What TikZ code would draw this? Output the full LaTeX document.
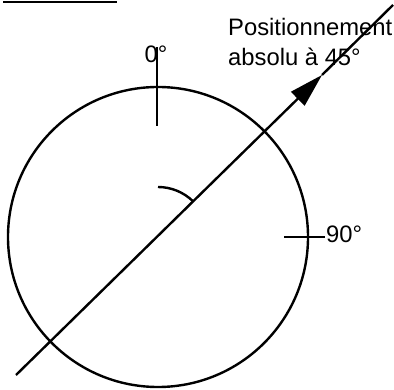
\documentclass[tikz,border=0pt]{standalone}
\usepackage{fontspec}
\setmainfont{Liberation Sans}
\usetikzlibrary{arrows.meta}

\begin{document}
\begin{tikzpicture}[x=0.5pt,y=0.5pt,line width=1.2pt,>={Triangle[length=17pt,width=9.5pt]},
  every node/.style={font=\fontsize{11.9}{15}\selectfont,inner sep=0pt}]
  \useasboundingbox (0,0) rectangle (394,389);
  % underline cut at the top edge
  \draw[line width=1.3pt] (3,387) -- (117,387);
  % dial and its marks
  \draw (158,152) coordinate (O) circle[radius=150];
  \draw (157,263) coordinate (t0) -- (157,342) coordinate (t0e);
  \node[anchor=base] (zero) at (156,326) {0°};
  \draw (284,152) coordinate (t90) -- (325,152) coordinate (t90e);
  \node[anchor=base west] (ninety) at (325,146) {90°};
  \draw (O) ++(0,50) arc[start angle=90,end angle=45,radius=50];
  % absolute direction
  \draw[->] (16,14) coordinate (A) -- (322,314) coordinate (tip);
  \draw (tip) -- (393,384) coordinate (B);
  \node[anchor=north west,align=left] (pos) at (227,372) {Positionnement\\absolu à 45°};
\end{tikzpicture}
\end{document}
